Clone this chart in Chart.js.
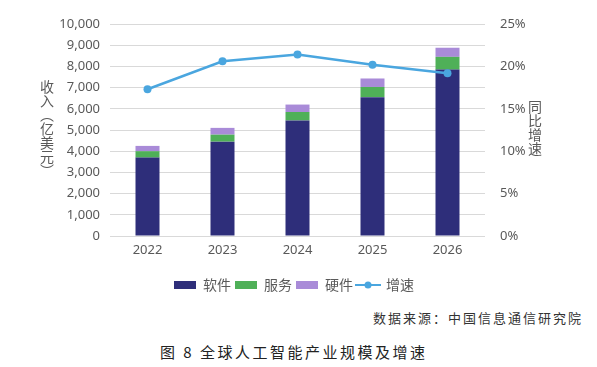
<!DOCTYPE html>
<html lang="zh">
<head>
    <meta charset="UTF-8">
    <title>全球人工智能产业规模及增速</title>
    <style>
        body { margin: 0; background: #fff; width: 597px; height: 367px; position: relative; overflow: hidden; }
        #wrap { position: absolute; left: 0; top: 0; width: 597px; height: 306px; }
        .vtitle { position: absolute; writing-mode: vertical-rl; font-family: "Noto Sans CJK SC", "Noto Sans", sans-serif; font-size: 14px; line-height: 14px; color: #595959; }
        #ytitle { left: 40px; top: 80px; }
        #y1title { left: 528px; top: 100px; }
        #source { position: absolute; right: 14px; top: 308px; font-family: "Noto Sans CJK SC", sans-serif; font-size: 13px; letter-spacing: 2px; color: #333; }
        #caption { position: absolute; left: 160px; top: 341px; font-family: "Noto Sans CJK SC", sans-serif; font-size: 15px; letter-spacing: 2.5px; color: #222; }
    </style>
</head>
<body>

<div id="wrap"><canvas id="aiChart" width="597" height="306"></canvas></div>
<div id="ytitle" class="vtitle">收入（亿美元）</div>
<div id="y1title" class="vtitle">同比增速</div>
<div id="source">数据来源：中国信息通信研究院</div>
<div id="caption">图 8 全球人工智能产业规模及增速</div>

<script src="https://cdn.jsdelivr.net/npm/chart.js"></script>
<script>
    // values (亿美元 / %)
    var years = ['2022', '2023', '2024', '2025', '2026'];
    var software = [3700, 4450, 5450, 6550, 7850];
    var services = [300, 330, 400, 480, 600];
    var hardware = [250, 320, 350, 400, 430];
    var growth = [17.3, 20.6, 21.4, 20.2, 19.2];

    var seriesNames = ['软件', '服务', '硬件', '增速'];
    var colors = ['#2e2e7a', '#4fb058', '#a98bd8', '#4aa6df'];

    function boxIcon(color) {
        var c = document.createElement('canvas');
        c.width = 22; c.height = 8;
        var g = c.getContext('2d');
        g.fillStyle = color;
        g.fillRect(0, 0, 22, 8);
        return c;
    }

    function lineIcon(color) {
        var c = document.createElement('canvas');
        c.width = 26; c.height = 10;
        var g = c.getContext('2d');
        g.strokeStyle = color;
        g.lineWidth = 2;
        g.beginPath(); g.moveTo(0, 5); g.lineTo(26, 5); g.stroke();
        g.fillStyle = color;
        g.beginPath(); g.arc(13, 5, 3.5, 0, Math.PI * 2); g.fill();
        return c;
    }

    var icons = [boxIcon(colors[0]), boxIcon(colors[1]), boxIcon(colors[2]), lineIcon(colors[3])];

    var tickFont = { family: '"Noto Sans", "Noto Sans CJK SC", sans-serif', size: 13 };

    var ctx = document.getElementById('aiChart').getContext('2d');
    var aiChart = new Chart(ctx, {
        type: 'bar',
        data: {
            labels: years,
            datasets: [
                { label: seriesNames[0], data: software, backgroundColor: colors[0], yAxisID: 'y', order: 1, stack: 's' },
                { label: seriesNames[1], data: services, backgroundColor: colors[1], yAxisID: 'y', order: 1, stack: 's' },
                { label: seriesNames[2], data: hardware, backgroundColor: colors[2], yAxisID: 'y', order: 1, stack: 's' },
                {
                    type: 'line', label: seriesNames[3], data: growth, yAxisID: 'y1', order: 0,
                    borderColor: colors[3], backgroundColor: colors[3], borderWidth: 2.5,
                    pointRadius: 4, pointBackgroundColor: colors[3], pointBorderWidth: 0, tension: 0
                }
            ]
        },
        options: {
            responsive: false,
            animation: false,
            // right padding nudges the centred legend left; y1 width compensates
            layout: { padding: { top: 24, bottom: 4, right: 9 } },
            datasets: { bar: { barPercentage: 0.4, categoryPercentage: 0.8 } },
            plugins: {
                tooltip: { enabled: false },
                legend: {
                    position: 'bottom',
                    labels: {
                        usePointStyle: true,
                        pointStyleWidth: 22,
                        padding: 4,
                        color: '#595959',
                        font: { family: '"Noto Sans CJK SC", sans-serif', size: 14 },
                        generateLabels: function(chart) {
                            return chart.data.datasets.map(function(ds, i) {
                                return {
                                    text: ds.label,
                                    pointStyle: icons[i],
                                    fillStyle: colors[i],
                                    strokeStyle: colors[i],
                                    lineWidth: 0,
                                    fontColor: '#595959',
                                    datasetIndex: i
                                };
                            });
                        }
                    }
                }
            },
            scales: {
                x: {
                    stacked: true,
                    grid: { display: false, drawTicks: false },
                    border: { display: false },
                    ticks: { color: '#595959', font: tickFont, padding: 6 },
                    afterFit: function(scale) { scale.height = 38; }
                },
                y: {
                    stacked: true,
                    min: 0, max: 10000,
                    grid: { color: '#d9d9d9', drawTicks: false },
                    border: { display: false },
                    ticks: {
                        stepSize: 1000, color: '#595959', font: tickFont, padding: 10,
                        callback: function(v) { return v.toLocaleString('en-US'); }
                    },
                    afterFit: function(scale) { scale.width = 110; }
                },
                y1: {
                    position: 'right',
                    min: 0, max: 25,
                    grid: { display: false },
                    border: { display: false },
                    ticks: {
                        stepSize: 5, color: '#595959', font: tickFont, padding: 7,
                        callback: function(v) { return v + '%'; }
                    },
                    afterFit: function(scale) { scale.width = 103; }
                }
            }
        }
    });
</script>

</body>
</html>
